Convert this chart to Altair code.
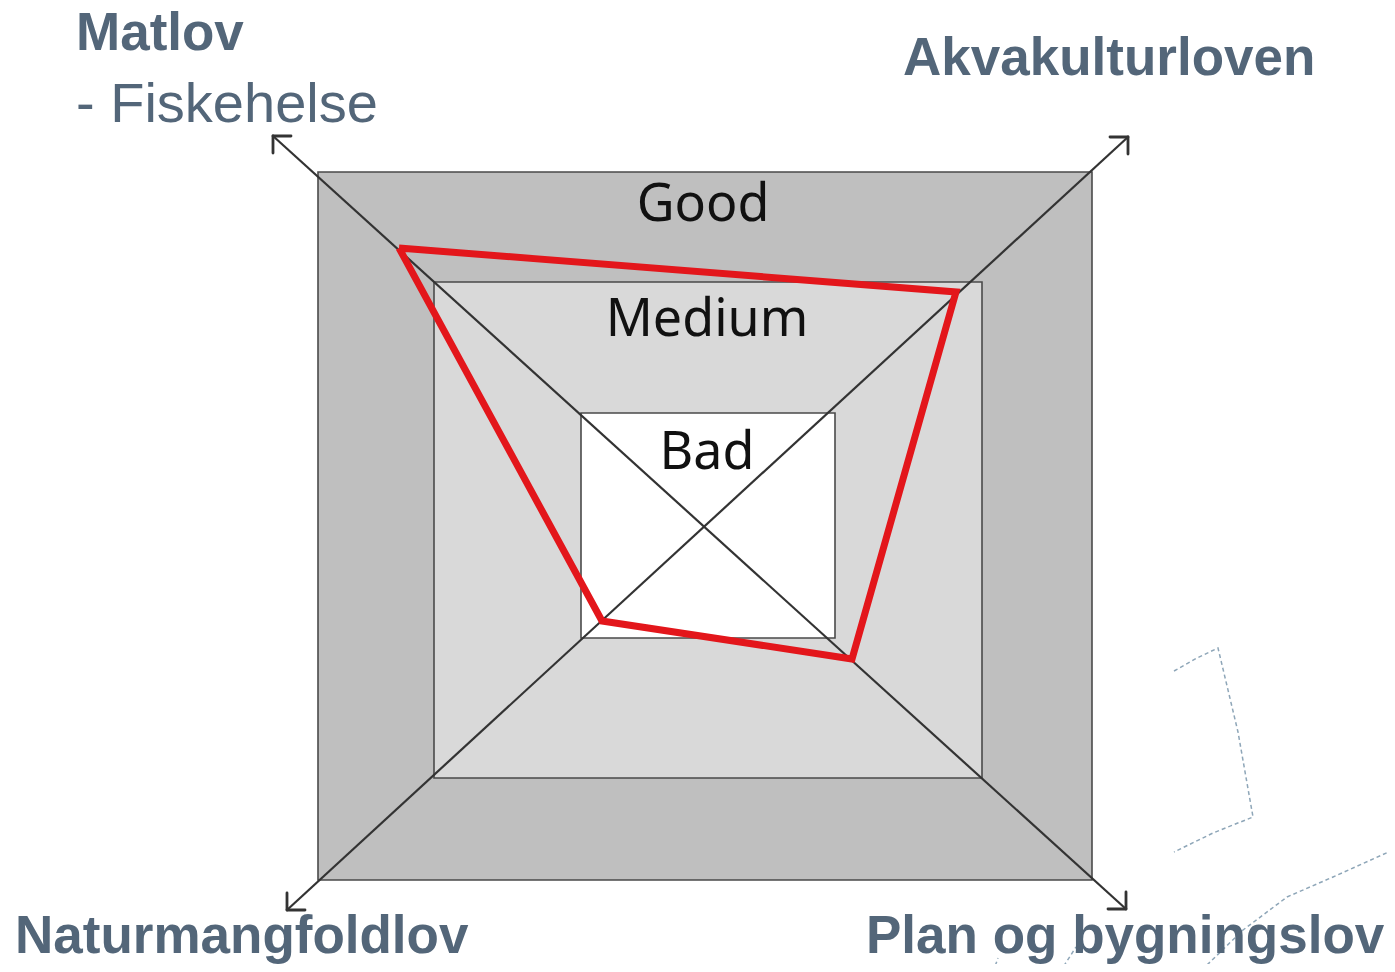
import altair as alt
import pandas as pd

# ---- data (image-pixel coordinate frame) ----
levels = ["Good", "Medium", "Bad"]
level_rank = [0, 1, 2]
level_left = [318, 434, 581]
level_right = [1092, 982, 835]
level_top = [172, 282, 413]
level_bottom = [880, 778, 638]
level_label_x = [703, 707, 707]
level_label_y = [221, 336, 469]

axes = ["Matlov", "Akvakulturloven", "Plan og bygningslov", "Naturmangfoldlov"]
center = (705, 524)
tip_x = [273, 1128, 1126, 287]
tip_y = [136, 137, 909, 910]
score_x = [399, 956, 852, 602]
score_y = [248, 292, 659, 621]

law_text = ["Matlov", "Akvakulturloven", "Naturmangfoldlov", "Plan og bygningslov"]
law_x = [76, 903, 15, 866]
law_y = [50, 75, 953, 953]
sub_text = ["- Fiskehelse"]
sub_x = [76]
sub_y = [122]

deco_groups = ["a"] * 7 + ["b"] * 6 + ["c"] * 2 + ["d"] * 2
deco_x = [1174, 1197, 1218, 1238, 1253, 1213, 1174,
          1393, 1333, 1287, 1243, 1207, 1200,
          993, 998,
          1060, 1076]
deco_y = [671, 658, 648, 732, 817, 833, 852,
          850, 877, 897, 930, 965, 972,
          972, 958,
          972, 947]

# ---- tables ----
sq = pd.DataFrame({"level": levels, "rank": level_rank, "x": level_left,
                   "x2": level_right, "y": level_top, "y2": level_bottom})
lev_lab = pd.DataFrame({"level": levels, "x": level_label_x, "y": level_label_y})
diag = pd.DataFrame({"x": [tip_x[0], tip_x[1]], "y": [tip_y[0], tip_y[1]],
                     "x2": [tip_x[2], tip_x[3]], "y2": [tip_y[2], tip_y[3]]})
arm = 18
heads = []
for tx, ty in zip(tip_x, tip_y):
    sx = 1 if center[0] > tx else -1
    sy = 1 if center[1] > ty else -1
    heads.append({"x": tx, "y": ty, "x2": tx + sx * arm, "y2": ty})
    heads.append({"x": tx, "y": ty, "x2": tx, "y2": ty + sy * (arm - 1)})
heads = pd.DataFrame(heads)
poly = pd.DataFrame({"axis": axes + [axes[0]], "x": score_x + [score_x[0]],
                     "y": score_y + [score_y[0]], "o": list(range(5))})
laws = pd.DataFrame({"t": law_text, "x": law_x, "y": law_y})
subs = pd.DataFrame({"t": sub_text, "x": sub_x, "y": sub_y})
deco = pd.DataFrame({"g": deco_groups, "x": deco_x, "y": deco_y,
                     "o": list(range(len(deco_x)))})

W, H = 1379, 956
xs = alt.Scale(domain=[8, 8 + W], nice=False, zero=False)
ys = alt.Scale(domain=[8, 8 + H], nice=False, zero=False, reverse=True)
X = lambda f="x": alt.X(f, type="quantitative", scale=xs, axis=None)
Y = lambda f="y": alt.Y(f, type="quantitative", scale=ys, axis=None)

squares = alt.Chart(sq).mark_rect(stroke="#4a4a4a", strokeWidth=1.6).encode(
    x=X(), x2="x2", y=Y(), y2="y2",
    color=alt.Color("level:N", scale=alt.Scale(domain=levels,
                    range=["#bfbfbf", "#d9d9d9", "#ffffff"]), legend=None),
    order=alt.Order("rank:Q", sort="ascending"),
)
diags = alt.Chart(diag).mark_rule(color="#333333", strokeWidth=2.2).encode(
    x=X(), y=Y(), x2="x2", y2="y2")
arrowheads = alt.Chart(heads).mark_rule(color="#333333", strokeWidth=2.8,
                                        strokeCap="round").encode(
    x=X(), y=Y(), x2="x2", y2="y2")
red = alt.Chart(poly).mark_line(color="#e3161b", strokeWidth=7,
                                strokeJoin="miter").encode(
    x=X(), y=Y(), order="o:Q")
lev_text = alt.Chart(lev_lab).mark_text(font="Noto Sans", fontSize=52, color="#111111",
                                        align="center", baseline="alphabetic").encode(
    x=X(), y=Y(), text="level:N")
law_labels = alt.Chart(laws).mark_text(font="Liberation Sans", fontSize=53,
                                       fontWeight="bold", color="#536679",
                                       align="left", baseline="alphabetic").encode(
    x=X(), y=Y(), text="t:N")
sub_labels = alt.Chart(subs).mark_text(font="Liberation Sans", fontSize=56,
                                       color="#536679", align="left",
                                       baseline="alphabetic").encode(
    x=X(), y=Y(), text="t:N")
decor = alt.Chart(deco).mark_line(color="#8ea6b8", strokeWidth=1.5,
                                  strokeDash=[4, 3]).encode(
    x=X(), y=Y(), detail="g:N", order="o:Q")

chart = alt.layer(decor, squares, diags, arrowheads, red, lev_text,
                  law_labels, sub_labels).properties(
    width=W, height=H, padding=0, autosize=alt.AutoSizeParams(type="none"),
).configure_view(stroke=None)

chart.save("out.html", embed_options={"renderer": "svg", "actions": False})
